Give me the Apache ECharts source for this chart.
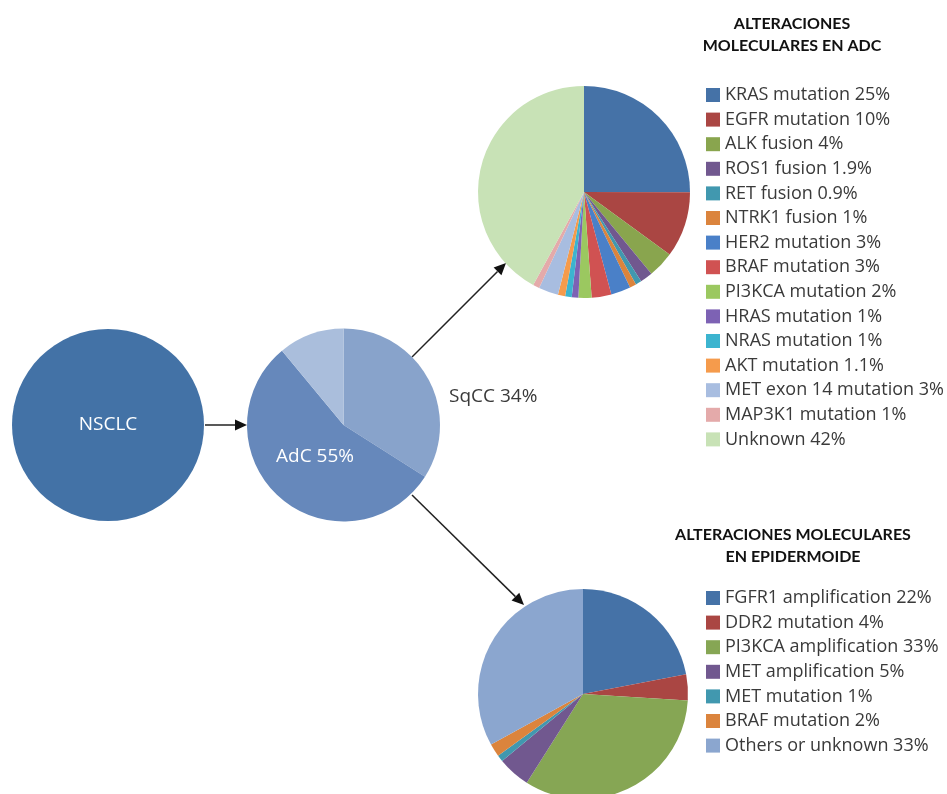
<!DOCTYPE html>
<html>
<head>
<meta charset="utf-8">
<script src="https://cdn.jsdelivr.net/npm/echarts@6/dist/echarts.min.js"></script>
<style>
  html, body { margin: 0; padding: 0; background: #ffffff; }
  #chart { width: 947px; height: 794px; }
</style>
</head>
<body>
<div id="chart"></div>
<script>
// Histological split of NSCLC
const histLabels = ['SqCC', 'AdC', 'Otros'];
const histValues = [34, 55, 11];
const histColors = ['#88a3cb', '#6688bb', '#aabedc'];

// Molecular alterations in adenocarcinoma (%)
const adcLabels = ['KRAS mutation', 'EGFR mutation', 'ALK fusion', 'ROS1 fusion', 'RET fusion',
  'NTRK1 fusion', 'HER2 mutation', 'BRAF mutation', 'PI3KCA mutation', 'HRAS mutation',
  'NRAS mutation', 'AKT mutation', 'MET exon 14 mutation', 'MAP3K1 mutation', 'Unknown'];
const adcValues = [25, 10, 4, 1.9, 0.9, 1, 3, 3, 2, 1, 1, 1.1, 3, 1, 42];
const adcColors = ['#4572a7', '#aa4643', '#89a54e', '#71588f', '#4198af', '#db843d', '#4a80c8',
  '#d05252', '#9bc860', '#7d62b4', '#3cb4cf', '#f59b4c', '#a8bde0', '#e4aaaa', '#c8e2b6'];

// Molecular alterations in squamous carcinoma (%)
const sqLabels = ['FGFR1 amplification', 'DDR2 mutation', 'PI3KCA amplification',
  'MET amplification', 'MET mutation', 'BRAF mutation', 'Others or unknown'];
const sqValues = [22, 4, 33, 5, 1, 2, 33];
const sqColors = ['#4572a7', '#aa4643', '#86a654', '#71588f', '#4198af', '#db843d', '#8ba6cf'];

const FONT = 'Open Sans';
const TEXT = '#3a3a3a';

// legend entries carry the percentage in their name
const named = (labels, values, colors) =>
  labels.map((l, i) => ({ name: l + ' ' + values[i] + '%', value: values[i], itemStyle: { color: colors[i] } }));
const adcData = named(adcLabels, adcValues, adcColors);
const sqData = named(sqLabels, sqValues, sqColors);

// straight arrow with a filled triangular head
function arrow(x1, y1, x2, y2) {
  const a = Math.atan2(y2 - y1, x2 - x1);
  const L = 12, W = 5.5;
  const bx = x2 - L * Math.cos(a), by = y2 - L * Math.sin(a);
  return [
    { type: 'line', silent: true, shape: { x1: x1, y1: y1, x2: bx, y2: by },
      style: { stroke: '#222', lineWidth: 1.5 } },
    { type: 'polygon', silent: true,
      shape: { points: [[x2, y2], [bx + W * Math.sin(a), by - W * Math.cos(a)], [bx - W * Math.sin(a), by + W * Math.cos(a)]] },
      style: { fill: '#111' } }
  ];
}

const legendBase = {
  orient: 'vertical', left: 706, padding: 0, itemWidth: 14, itemHeight: 14, itemGap: 6.6,
  icon: 'rect', selectedMode: false,
  textStyle: { fontFamily: FONT, fontSize: 18, color: TEXT }
};
const titleStyle = { fontFamily: 'Lato', fontWeight: 'bold', fontSize: 16, lineHeight: 22, color: '#111' };

const chart = echarts.init(document.getElementById('chart'), null, { renderer: 'canvas' });
chart.setOption({
  animation: false,
  backgroundColor: '#ffffff',
  title: [
    { text: 'ALTERACIONES\nMOLECULARES EN ADC', left: 792, top: 13, padding: 0, textAlign: 'center', textStyle: titleStyle },
    { text: 'ALTERACIONES MOLECULARES\nEN EPIDERMOIDE', left: 793, top: 524, padding: 0, textAlign: 'center', textStyle: titleStyle }
  ],
  legend: [
    Object.assign({}, legendBase, { top: 86, data: adcData.map(d => d.name) }),
    Object.assign({}, legendBase, { top: 589, data: sqData.map(d => d.name) })
  ],
  graphic: [].concat(
    arrow(205, 425, 247, 425),
    arrow(412, 357, 506, 263),
    arrow(412, 495, 524, 605)
  ),
  series: [
    {
      type: 'pie', name: 'NSCLC', center: [108, 425], radius: 96, silent: true,
      data: [{ name: 'NSCLC', value: 100, itemStyle: { color: '#4372a6' } }],
      label: { show: true, position: 'center', formatter: '{b}', color: '#ffffff', fontFamily: FONT, fontSize: 19 },
      labelLine: { show: false }
    },
    {
      type: 'pie', name: 'Histología', center: [343.5, 425], radius: 96.5, startAngle: 90, clockwise: true, silent: true,
      itemStyle: { borderWidth: 0 },
      data: histLabels.map((l, i) => ({
        name: l, value: histValues[i], itemStyle: { color: histColors[i] },
        label: i === 2 ? { show: false } : { show: true, color: i === 0 ? TEXT : '#ffffff' }
      })),
      label: { show: true, position: 'inside', fontFamily: FONT, fontSize: 19,
        formatter: p => p.name + ' ' + p.value + '%' },
      labelLine: { show: false },
      labelLayout: p => {
        if (p.dataIndex === 0) return { x: 449, y: 397, align: 'left', verticalAlign: 'middle' };
        if (p.dataIndex === 1) return { x: 315, y: 457, align: 'center', verticalAlign: 'middle' };
      }
    },
    {
      type: 'pie', name: 'ADC', center: [584, 192], radius: 106, startAngle: 90, clockwise: true, silent: true,
      itemStyle: { borderWidth: 0 }, minAngle: 0, avoidLabelOverlap: false,
      data: adcData, label: { show: false }, labelLine: { show: false }
    },
    {
      type: 'pie', name: 'Epidermoide', center: [583, 694], radius: 105, startAngle: 90, clockwise: true, silent: true,
      itemStyle: { borderWidth: 0 }, minAngle: 0, avoidLabelOverlap: false,
      data: sqData, label: { show: false }, labelLine: { show: false }
    }
  ]
});
</script>
</body>
</html>
